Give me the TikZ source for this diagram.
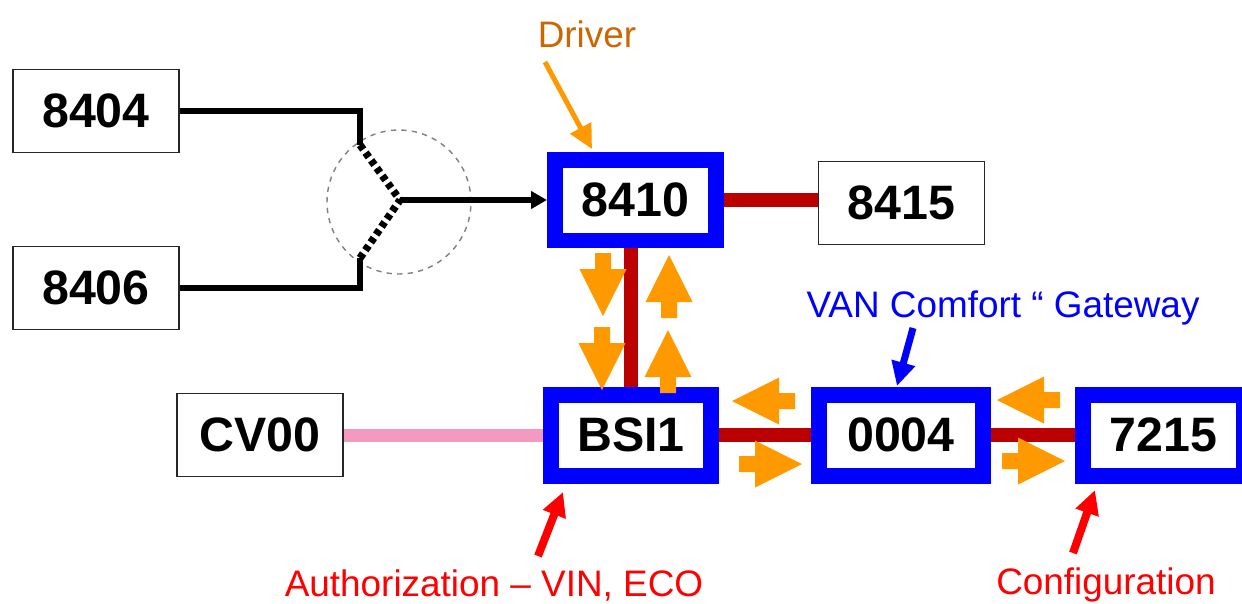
\documentclass[tikz,border=0pt]{standalone}
\usepackage{fontspec}
\setmainfont{Liberation Sans}
\usetikzlibrary{arrows.meta}
\definecolor{busred}{HTML}{BB0000}
\definecolor{flowbar}{HTML}{FF9900}
\definecolor{driverbrown}{HTML}{CC6600}
\definecolor{cvpink}{HTML}{F49AC1}
\definecolor{hubgray}{HTML}{808080}
\tikzset{ecu/.style={rectangle,draw=black!85,line width=.8pt,fill=white,
 minimum width=3.32cm,minimum height=1.66cm,inner sep=0pt,
 font=\fontsize{27.5}{28}\selectfont\bfseries},
 keyecu/.style={ecu,draw=blue,line width=.32cm,minimum width=3.22cm,minimum height=1.62cm},
 bus/.style={draw=busred,line width=.27cm},
 wire/.style={draw=black,line width=.13cm},
 callout/.style={font=\fontsize{21}{21}\selectfont,anchor=base,inner sep=0pt},
 pointer/.style={line width=#1,-{Triangle[length=.48cm,width=.46cm]}},
 flow/.style={fill=flowbar}}
\newcommand{\flowarrow}[3]{%
 \fill[flow,shift={(#1,#2)},rotate=#3] (0,-8)--(16,-8)--(16,-23.5)--(63,0)
   --(16,23.5)--(16,8)--(0,8)--cycle;}

\begin{document}
\begin{tikzpicture}[x=.02cm,y=-.02cm]
 \clip (0,0) rectangle (1242,603);
 \fill[white] (0,0) rectangle (1242,603);
 \node[ecu] (n8404) at (96,111) {8404};
 \node[ecu] (n8406) at (96,288) {8406};
 \node[keyecu] (n8410) at (635.5,200) {8410};
 \node[ecu] (n8415) at (901.5,203) {8415};
 \node[ecu] (cv00) at (260,435) {CV00};
 \node[keyecu] (bsi) at (631,435) {BSI1};
 \node[keyecu,minimum width=3.28cm] (n0004) at (901,435) {0004};
 \node[keyecu] (n7215) at (1163.5,435) {7215};
 \node[circle,draw=hubgray,dashed,line width=.8pt,minimum size=2.88cm] (merge) at (399,202) {};
 \coordinate (up) at (360,145);
 \coordinate (low) at (360,258);
 \coordinate (hub) at (400,200);
 \draw[wire] (n8404) -| (up);
 \draw[wire] (n8406) -| (low);
 \draw[wire,line width=.15cm,dash pattern=on .11cm off .08cm] (up) -- (hub) -- (low);
 \draw[wire,line width=.12cm,-{Triangle[length=.32cm,width=.34cm]}] (hub) -- (n8410);
 \draw[bus] (n8410.east) -- (n8410.east -| n8415.west);
 \draw[bus] (bsi.north) -- (bsi.north |- n8410.south);
 \draw[draw=cvpink,line width=.26cm] (cv00.east) -- (bsi.west);
 \draw[bus] (bsi.east) -- (n0004.west);
 \draw[bus] (n0004.east) -- (n7215.west);
 \node[callout,text=driverbrown] (driver) at (587,47) {Driver};
 \node[callout,text=blue] (vanlabel) at (1003,317) {VAN Comfort “ Gateway};
 \node[callout,text=red] (authlabel) at (494,596) {Authorization – VIN, ECO};
 \node[callout,text=red] (conflabel) at (1106,594) {Configuration};
 \coordinate (drvtail) at (545,62);
 \coordinate (drvtip) at (592,149);
 \coordinate (vantail) at (913,328);
 \coordinate (vantip) at (897,386);
 \coordinate (authtail) at (538,556);
 \coordinate (authtip) at (563,492);
 \coordinate (conftail) at (1073,553);
 \coordinate (conftip) at (1095,490);
 \draw[pointer=.1cm,flowbar] (drvtail) -- (drvtip);
 \draw[pointer=.14cm,blue] (vantail) -- (vantip);
 \draw[pointer=.16cm,red] (authtail) -- (authtip);
 \draw[pointer=.16cm,red] (conftail) -- (conftip);
 \flowarrow{603}{253}{-90}
 \flowarrow{602}{327}{-90}
 \flowarrow{669}{318}{90}
 \flowarrow{668}{393}{90}
 \flowarrow{795}{401}{180}
 \flowarrow{739}{464}{0}
 \flowarrow{1060}{400}{180}
 \flowarrow{1002}{461}{0}
\end{tikzpicture}
\end{document}
